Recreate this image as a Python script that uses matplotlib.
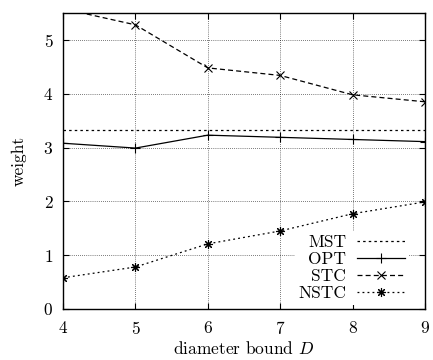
import numpy as np
import matplotlib.pyplot as plt

# values
D = [4, 5, 6, 7, 8, 9]
mst = [3.33, 3.33, 3.33, 3.33, 3.33, 3.33]
opt = [3.08, 2.99, 3.23, 3.19, 3.15, 3.11]
stc = [5.58, 5.28, 4.48, 4.34, 3.98, 3.85]
nstc = [0.58, 0.78, 1.21, 1.45, 1.77, 1.99]

xticks = [4, 5, 6, 7, 8, 9]
yticks = [0, 1, 2, 3, 4, 5]

plt.rcParams['font.family'] = 'serif'
plt.rcParams['font.serif'] = ['cmr10', 'DejaVu Serif']
plt.rcParams['mathtext.fontset'] = 'cm'
plt.rcParams['axes.formatter.use_mathtext'] = True

fs = 12.5

fig = plt.figure(figsize=(4.33, 3.6), dpi=100)
ax = fig.add_axes([0.1455, 0.1417, 0.836, 0.8222])

ax.plot(D, mst, color='k', lw=0.9, ls=(0, (2, 2.5)), label='MST')
ax.plot(D, opt, color='k', lw=0.9, marker='+', ms=7, mew=0.8, label='OPT')
ax.plot(D, stc, color='k', lw=0.9, ls=(0, (4, 2.5)), marker='x', ms=5.5, mew=0.8, label='STC')
ax.plot(D, nstc, color='k', lw=0.9, ls=(0, (1.5, 2.5)), marker=(8, 2, 0), ms=6.5, mew=0.8, label='NSTC')

ax.set_xlim(4, 9)
ax.set_ylim(0, 5.5)
ax.set_xticks(xticks)
ax.set_yticks(yticks)
ax.tick_params(direction='in', top=True, right=True, length=4, width=0.8, labelsize=fs)
ax.tick_params(axis='x', pad=8)
ax.tick_params(axis='y', pad=7)
ax.grid(True, color='k', ls=(0, (1, 2)), lw=0.5)
for s in ax.spines.values():
    s.set_linewidth(1.0)

ax.set_xlabel('diameter bound $D$', fontsize=fs, labelpad=2)
ax.set_ylabel('weight', fontsize=fs, labelpad=12)

leg = ax.legend(loc='lower right', frameon=True, markerfirst=False, fontsize=fs,
                handlelength=2.8, handletextpad=0.6, labelspacing=0.1,
                borderpad=0.2, borderaxespad=0.0, bbox_to_anchor=(0.955, 0.015))
leg.get_frame().set_facecolor('white')
leg.get_frame().set_edgecolor('none')
leg.get_frame().set_alpha(1)

fig.savefig('out.png', dpi=100)
